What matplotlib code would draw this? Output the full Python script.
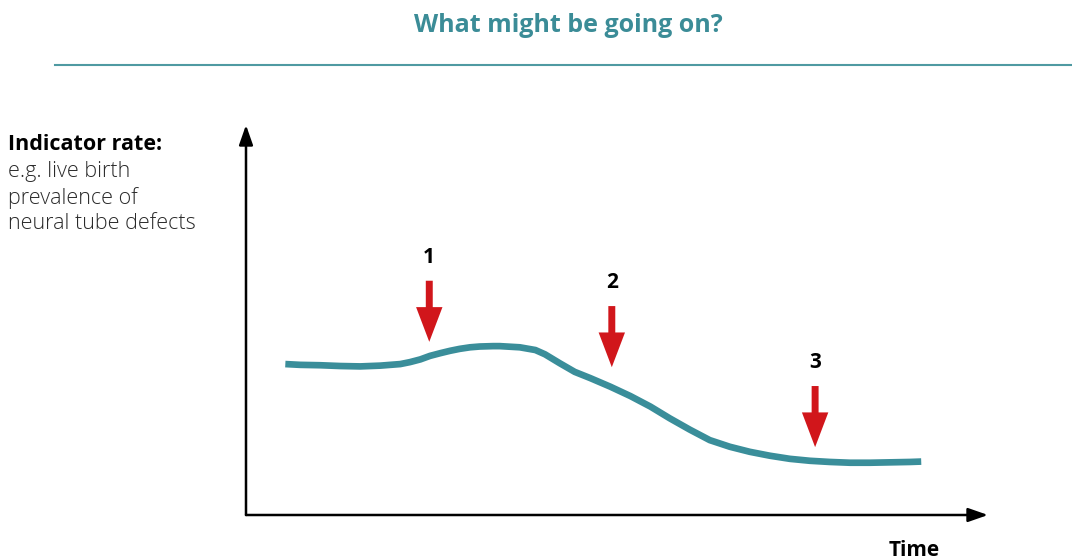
import matplotlib
matplotlib.use('Agg')
from matplotlib import pyplot as plt

plt.rcParams['font.family'] = ['Open Sans', 'DejaVu Sans']

# curve readings (time, rate) in arbitrary units 0-100
time = [5.3, 7.3, 10.0, 12.7, 15.4, 18.1, 20.8, 22.1, 23.5, 24.8, 26.2,
        27.5, 28.8, 30.2, 31.5, 33.3, 34.2, 36.9, 39.0, 40.3, 42.3, 44.3,
        46.4, 49.1, 51.8, 54.5, 57.1, 59.8, 62.5, 65.2, 67.9, 70.6, 73.3,
        76.0, 78.7, 81.4, 84.1, 86.8, 89.5, 91.0]
rate = [38.7, 38.5, 38.4, 38.2, 38.1, 38.3, 38.7, 39.2, 39.9, 40.8, 41.5,
        42.1, 42.6, 43.0, 43.2, 43.3, 43.3, 43.0, 42.3, 41.2, 38.9, 36.7,
        35.1, 32.9, 30.5, 27.8, 24.8, 21.9, 19.2, 17.5, 16.2, 15.2, 14.4,
        13.9, 13.6, 13.4, 13.4, 13.5, 13.6, 13.7]

# red arrows: where they point at
event_labels = ['1', '2', '3']
event_time = [24.7, 49.3, 76.7]
event_tip = [44.4, 37.9, 17.4]

teal = '#3a8e9a'
red = '#d1161b'

fig = plt.figure(figsize=(10.72, 5.6), dpi=100)

# title and rule
fig.text(568/1072, 1 - 26/560, 'What might be going on?', ha='center', va='center',
         fontsize=18, fontweight='bold', color='#3b8c97')
fig.add_artist(plt.Line2D([55/1072, 1], [1 - 65/560, 1 - 65/560],
                          color='#4f9aa2', lw=1.5))

# y label block
fig.text(8/1072, 1 - 144/560, 'Indicator rate:', ha='left', va='center',
         fontsize=15.5, fontweight='bold', color='black')
fig.text(8/1072, 1 - 161/560, 'e.g. live birth\nprevalence of\nneural tube defects',
         ha='left', va='top', fontsize=15.5, fontweight='light', color='#2a2a2a',
         linespacing=1.28)

ax = fig.add_axes([246/1072, 45/560, 742/1072, 390/560])
ax.set_xlim(0, 100)
ax.set_ylim(0, 100)
ax.axis('off')

# axes arrows
for end in [(0, 1), (1, 0)]:
    ax.annotate('', xy=end, xytext=(0, 0), xycoords='axes fraction',
                arrowprops=dict(arrowstyle='-|>,head_length=1.0,head_width=0.35',
                                mutation_scale=12, color='black', lw=1.8,
                                shrinkA=0, shrinkB=0))
ax.text(0.9, -0.092, 'Time', transform=ax.transAxes, ha='center', va='center',
        fontsize=15, fontweight='bold')

ax.plot(time, rate, color=teal, lw=4.8, solid_capstyle='butt',
        solid_joinstyle='round')

for lab, t, tip in zip(event_labels, event_time, event_tip):
    ax.annotate('', xy=(t, tip), xytext=(0, 44), textcoords='offset points',
                arrowprops=dict(arrowstyle='simple,head_length=25,head_width=19,tail_width=5',
                                mutation_scale=1, color=red, lw=0,
                                shrinkA=0, shrinkB=0))
    ax.annotate(lab, xy=(t, tip), xytext=(0, 61), textcoords='offset points',
                ha='center', va='center', fontsize=15, fontweight='bold')

fig.savefig('out.png', dpi=100)
